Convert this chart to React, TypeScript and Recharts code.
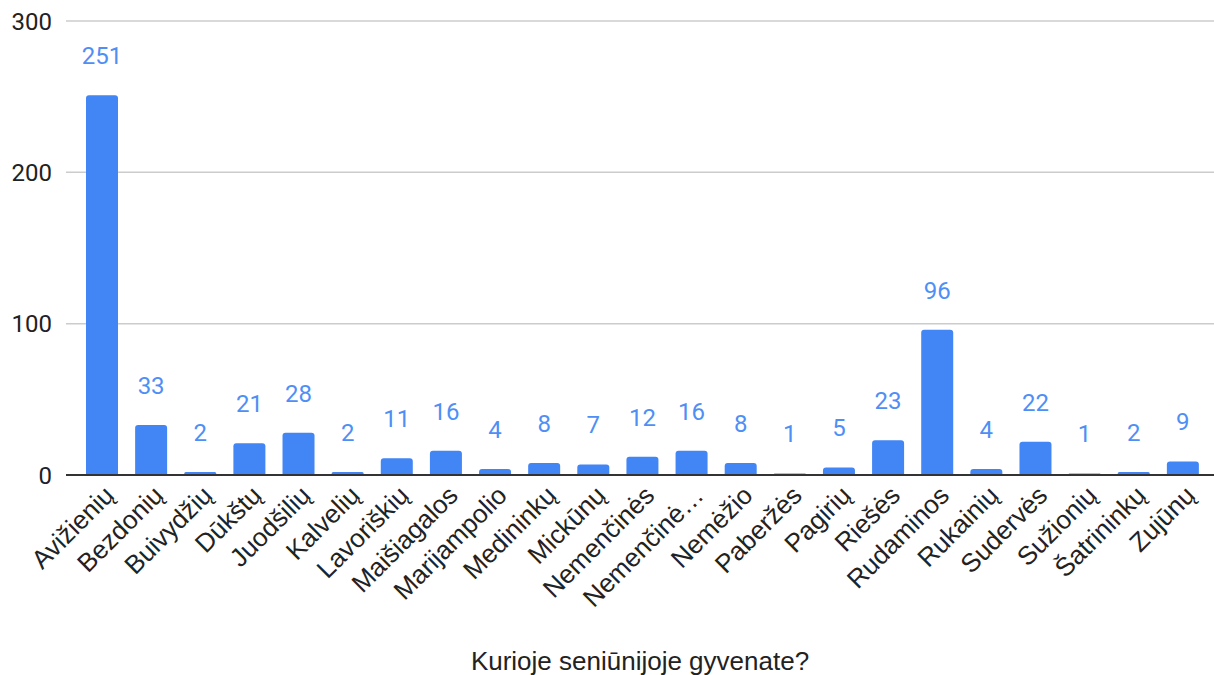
import React from "react";
import { BarChart, Bar, XAxis, YAxis, CartesianGrid, LabelList, Label } from "recharts";

const categories = [
  "Avižienių", "Bezdonių", "Buivydžių", "Dūkštų", "Juodšilių", "Kalvelių", "Lavoriškių",
  "Maišiagalos", "Marijampolio", "Medininkų", "Mickūnų", "Nemenčinės", "Nemenčinė…",
  "Nemėžio", "Paberžės", "Pagirių", "Riešės", "Rudaminos", "Rukainių", "Sudervės",
  "Sužionių", "Šatrininkų", "Zujūnų",
];
const counts = [251, 33, 2, 21, 28, 2, 11, 16, 4, 8, 7, 12, 16, 8, 1, 5, 23, 96, 4, 22, 1, 2, 9];
const yTicks = [0, 100, 200, 300];
const axisTitle = "Kurioje seniūnijoje gyvenate?";

const data = categories.map((name, i) => ({ name, value: counts[i] }));

const XTick = (props: any) => {
  const { x, y, payload } = props;
  const px = x + 14;
  const py = y + 14;
  return (
    <text
      x={px}
      y={py}
      transform={`rotate(-45 ${px} ${py})`}
      textAnchor="end"
      fill="#222"
      fontSize={26}
      fontFamily="Liberation Sans, Arial, sans-serif"
    >
      {payload.value}
    </text>
  );
};

export default function App() {
  return (
    <div style={{ position: "absolute", left: 0, top: 0, background: "#fff" }}>
      <BarChart
        width={1214}
        height={675}
        data={data}
        margin={{ top: 21, right: 0, left: 0, bottom: 0 }}
        barSize={32}
      >
        <CartesianGrid vertical={false} stroke="#cccccc" strokeWidth={1.5} />
        <XAxis
          dataKey="name"
          interval={0}
          height={200}
          padding={{ left: 11, right: 7 }}
          tickLine={false}
          axisLine={{ stroke: "#333333", strokeWidth: 2 }}
          tick={<XTick />}
        >
          <Label
            value={axisTitle}
            position="insideBottom"
            offset={5}
            fill="#222"
            fontSize={26}
            fontFamily="Liberation Sans, Arial, sans-serif"
          />
        </XAxis>
        <YAxis
          width={66}
          domain={[0, 300]}
          ticks={yTicks}
          axisLine={false}
          tickLine={false}
          tickMargin={8}
          tick={{ fill: "#222", fontSize: 24, fontFamily: "Roboto, sans-serif" }}
        />
        <Bar dataKey="value" fill="#4285f4" radius={[3, 3, 0, 0]} isAnimationActive={false}>
          <LabelList
            dataKey="value"
            position="top"
            offset={31}
            fill="#4f8ff5"
            fontSize={24}
            fontFamily="Roboto, sans-serif"
          />
        </Bar>
      </BarChart>
    </div>
  );
}
